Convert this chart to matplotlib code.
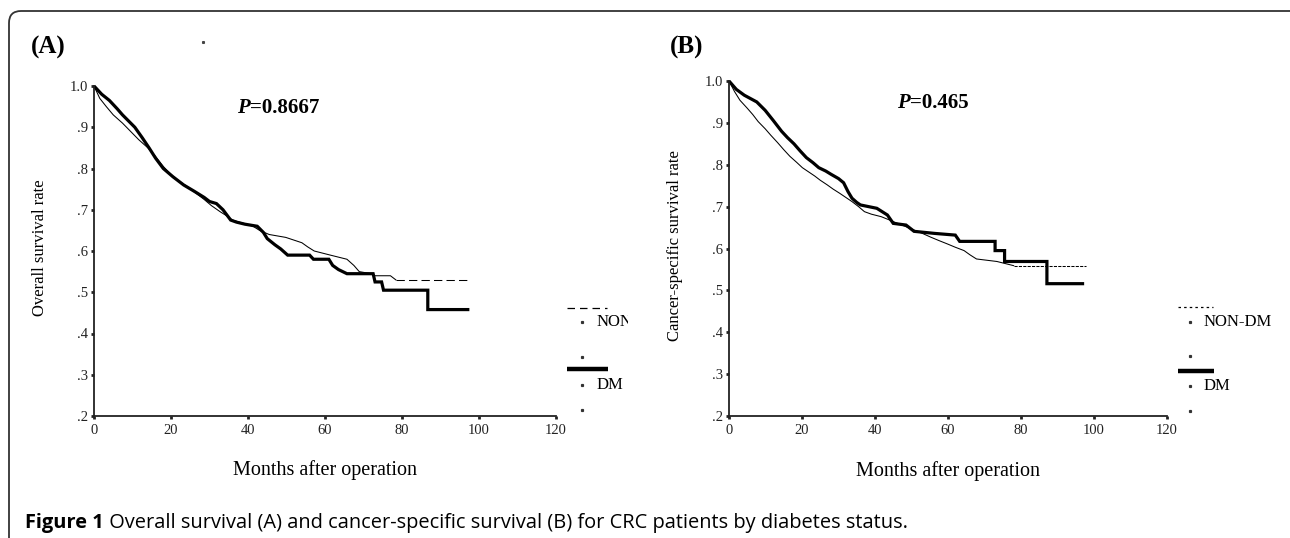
import matplotlib
matplotlib.use("Agg")
import matplotlib.pyplot as plt
from matplotlib.patches import FancyBboxPatch
from matplotlib.lines import Line2D
from matplotlib.transforms import IdentityTransform, Bbox
from matplotlib import font_manager

W, H = 1290, 538

# ---------------- data ----------------
x_ticks = [0, 20, 40, 60, 80, 100, 120]
y_ticks = [0.2, 0.3, 0.4, 0.5, 0.6, 0.7, 0.8, 0.9, 1.0]
y_tick_labels = ['.2', '.3', '.4', '.5', '.6', '.7', '.8', '.9', '1.0']

# Panel A: overall survival  (months, survival)
a_dm = [(0, 1.0), (2, 0.98), (4, 0.965), (6, 0.945), (7.4, 0.93), (9, 0.915), (10.6, 0.90),
        (12.5, 0.875), (14.3, 0.85), (16, 0.825), (18, 0.80), (20.5, 0.78), (23.3, 0.76),
        (26, 0.745), (28.6, 0.73), (30, 0.72), (31.8, 0.715), (33.5, 0.70), (35.5, 0.675),
        (37, 0.67), (39.2, 0.665), (42.4, 0.66), (44, 0.645), (45, 0.63), (47, 0.615),
        (48.5, 0.605), (50.3, 0.59), (56, 0.59), (57, 0.58), (61, 0.58), (62, 0.565),
        (63.5, 0.555), (65.7, 0.545), (72.5, 0.545), (73, 0.525), (74.7, 0.525),
        (75.2, 0.505), (86.7, 0.505), (86.7, 0.458), (97.5, 0.458)]
a_non = [(0, 1.0), (1.5, 0.97), (3.2, 0.95), (5, 0.93), (7.4, 0.91), (9.5, 0.89),
         (11.6, 0.87), (14, 0.85), (15.9, 0.83), (18, 0.805), (20, 0.785), (22, 0.77),
         (24.4, 0.755), (26.5, 0.74), (28.6, 0.725), (30.5, 0.71), (32.8, 0.695),
         (34.5, 0.685), (36, 0.675), (38.5, 0.668), (41.3, 0.66), (43, 0.65), (45.5, 0.64),
         (49.8, 0.633), (54, 0.62), (55.5, 0.61), (57.2, 0.60), (61.4, 0.59), (65.7, 0.58),
         (67.5, 0.565), (68.9, 0.55), (72, 0.545), (73, 0.54), (77, 0.54), (78.4, 0.53),
         (97.5, 0.53)]

# Panel B: cancer-specific survival
b_dm = [(0, 1.0), (2, 0.98), (4.2, 0.966), (7.6, 0.95), (9.9, 0.93), (12.1, 0.906),
        (14.4, 0.88), (16, 0.865), (17.8, 0.85), (19.5, 0.833), (21.2, 0.817), (23, 0.805),
        (24.6, 0.793), (26.5, 0.785), (28, 0.777), (30, 0.767), (31.4, 0.757), (32.6, 0.736),
        (33.7, 0.72), (35, 0.71), (36, 0.704), (40.5, 0.696), (43.4, 0.68), (45, 0.66),
        (48.5, 0.656), (50.7, 0.641), (56.4, 0.636), (62, 0.632), (63.2, 0.617),
        (72.9, 0.617), (72.9, 0.595), (75.5, 0.595), (75.5, 0.569), (87.1, 0.569),
        (87.1, 0.516), (97.3, 0.516)]
b_non = [(0, 1.0), (1.5, 0.975), (3, 0.954), (5, 0.935), (6.5, 0.92), (8, 0.903),
         (9.9, 0.886), (11.5, 0.87), (13.3, 0.853), (15, 0.836), (16.7, 0.82), (18.5, 0.806),
         (20.1, 0.793), (21.8, 0.783), (23.5, 0.773), (25, 0.763), (26.9, 0.752),
         (28.5, 0.742), (30.3, 0.732), (32, 0.722), (33.7, 0.712), (35.5, 0.70),
         (37.1, 0.688), (39, 0.682), (41.7, 0.676), (44, 0.668), (46.2, 0.66), (48.5, 0.652),
         (50.7, 0.644), (53, 0.636), (55.3, 0.627), (57.5, 0.619), (59.8, 0.611),
         (62, 0.603), (64.4, 0.595), (66, 0.585), (67.8, 0.575), (73.4, 0.569),
         (78, 0.559), (97.8, 0.559)]

tail_a_start = 78.4
tail_b_start = 78

p_texts = ["=0.8667", "=0.465"]
panel_labels = ["(A)", "(B)"]
y_labels = ["Overall survival rate", "Cancer-specific survival rate"]
x_label = "Months after operation"
legend_labels_a = ["NON", "DM"]          # panel A legend is cut at the panel edge
legend_labels_b = ["NON-DM", "DM"]
caption_bold = "Figure 1"
caption_rest = " Overall survival (A) and cancer-specific survival (B) for CRC patients by diabetes status."

# ---------------- fonts ----------------
avail = {f.name for f in font_manager.fontManager.ttflist}
SERIF = "Liberation Serif" if "Liberation Serif" in avail else "DejaVu Serif"
CAPF = "Open Sans"
for cand in ["Liberation Sans Narrow", "Open Sans", "Noto Sans"]:
    if cand in avail:
        CAPF = cand
        break
plt.rcParams['font.family'] = SERIF


def fx(x):
    return x / W


def fy(y):
    return 1 - y / H


fig = plt.figure(figsize=(W / 100, H / 100), dpi=100)
fig.patch.set_facecolor('white')

# rounded frame
frame = FancyBboxPatch((9, -30), 1290 - 9 + 20, 527 + 30, boxstyle="round,pad=0,rounding_size=12",
                       transform=IdentityTransform(), fill=False, edgecolor='#333333',
                       linewidth=1.3)
fig.add_artist(frame)

axA = fig.add_axes([fx(94), fy(416), 462 / W, 330 / H])
axB = fig.add_axes([fx(729), fy(416), 438 / W, 335 / H])


def style_axis(ax, ylab, ylab_x):
    ax.set_xlim(0, 120)
    ax.set_ylim(0.2, 1.0)
    ax.set_xticks(x_ticks)
    ax.set_yticks(y_ticks)
    ax.set_yticklabels(y_tick_labels)
    for s in ['top', 'right']:
        ax.spines[s].set_visible(False)
    for s in ['left', 'bottom']:
        ax.spines[s].set_linewidth(1.3)
        ax.spines[s].set_color('#222222')
    ax.tick_params(axis='both', direction='out', length=2.5, width=2, labelsize=10.5,
                   pad=2, colors='#222222')
    ax.tick_params(axis='x', pad=3)
    ax.set_facecolor('none')
    ax.set_ylabel(ylab, fontsize=12)
    ax.yaxis.set_label_coords(ylab_x, 0.51)
    ax.set_xlabel(x_label, fontsize=14.5)
    ax.xaxis.set_label_coords(0.5, -0.135)


style_axis(axA, y_labels[0], -0.10)
style_axis(axB, y_labels[1], -0.105)


def draw_curve(ax, pts, lw, tail_start=None, tail_style=None):
    t = [p[0] for p in pts]
    s = [p[1] for p in pts]
    if tail_start is None:
        ax.plot(t, s, color='black', linewidth=lw, clip_on=False,
                solid_joinstyle='miter', solid_capstyle='butt')
    else:
        n = sum(1 for v in t if v <= tail_start)
        ax.plot(t[:n], s[:n], color='black', linewidth=lw, clip_on=False)
        ax.plot(t[n - 1:], s[n - 1:], color='black', linewidth=lw,
                linestyle=tail_style, clip_on=False)


draw_curve(axA, a_non, 0.75, tail_a_start, (0, (8, 4)))
draw_curve(axA, a_dm, 2.3)
draw_curve(axB, b_non, 0.75, tail_b_start, (0, (3, 1.2)))
draw_curve(axB, b_dm, 2.3)

# P values (italic P + bold value)
for (px, py), txt in zip([(250, 108), (910, 103)], p_texts):
    fig.text(fx(px), fy(py), "P", fontsize=15, fontweight='bold', fontstyle='italic',
             ha='right', va='center')
    fig.text(fx(px), fy(py), txt, fontsize=15, fontweight='bold', ha='left', va='center')

# panel labels
fig.text(fx(48), fy(47), panel_labels[0], fontsize=18, fontweight='bold', ha='center', va='center')
fig.text(fx(687), fy(47), panel_labels[1], fontsize=18, fontweight='bold', ha='center', va='center')

# stray dot in panel A
fig.add_artist(Line2D([fx(203)], [fy(42)], marker='s', markersize=1.2, color='#444444',
                      linestyle='none'))


def legend(labels, x0, x1, dotx, textx, ys, line_style, clip_right=None):
    y_line1, y_t1, y_d1, y_line2, y_t2, y_d2 = ys
    fig.add_artist(Line2D([fx(x0), fx(x1)], [fy(y_line1)] * 2, color='black', linewidth=0.9,
                          linestyle=line_style))
    fig.add_artist(Line2D([fx(x0), fx(x1 + 1)], [fy(y_line2)] * 2, color='black', linewidth=3.2,
                          solid_capstyle='butt'))
    for yy in [y_t1, y_d1, y_t2, y_d2]:
        fig.add_artist(Line2D([fx(dotx)], [fy(yy)], marker='s', markersize=1.3,
                              color='#333333', linestyle='none'))
    for yy, lab in [(y_t1, labels[0]), (y_t2, labels[1])]:
        t = fig.text(fx(textx), fy(yy), lab, fontsize=12, ha='left', va='center')
        if clip_right is not None:
            t.set_clip_box(Bbox.from_extents(0, 0, clip_right, H))
            t.set_clip_on(True)


legend(legend_labels_a, 567, 607, 582, 597, (308, 322, 357, 369, 385, 410), (0, (6, 4)),
       clip_right=628)
legend(legend_labels_b, 1178, 1213, 1190, 1204, (307, 322, 356, 371, 386, 411), (0, (2, 2.5)))

# caption: bold part + regular part, fitted to target width
renderer = fig.canvas.get_renderer()
cap_size = 13
cap_y = fy(523)
t1 = fig.text(fx(25), cap_y, caption_bold, fontsize=cap_size, fontweight='bold',
              family=CAPF, ha='left', va='center')
bb1 = t1.get_window_extent(renderer)
t2 = fig.text(bb1.x1 / W, cap_y, caption_rest, fontsize=cap_size, family=CAPF,
              ha='left', va='center')
bb2 = t2.get_window_extent(renderer)
target_end = 905
scale = (target_end - 25) / (bb2.x1 - 25)
cap_size2 = cap_size * scale
t1.set_fontsize(cap_size2)
bb1 = t1.get_window_extent(renderer)
t2.set_fontsize(cap_size2)
t2.set_x(bb1.x1 / W)

fig.savefig("out.png", dpi=100, facecolor='white')
